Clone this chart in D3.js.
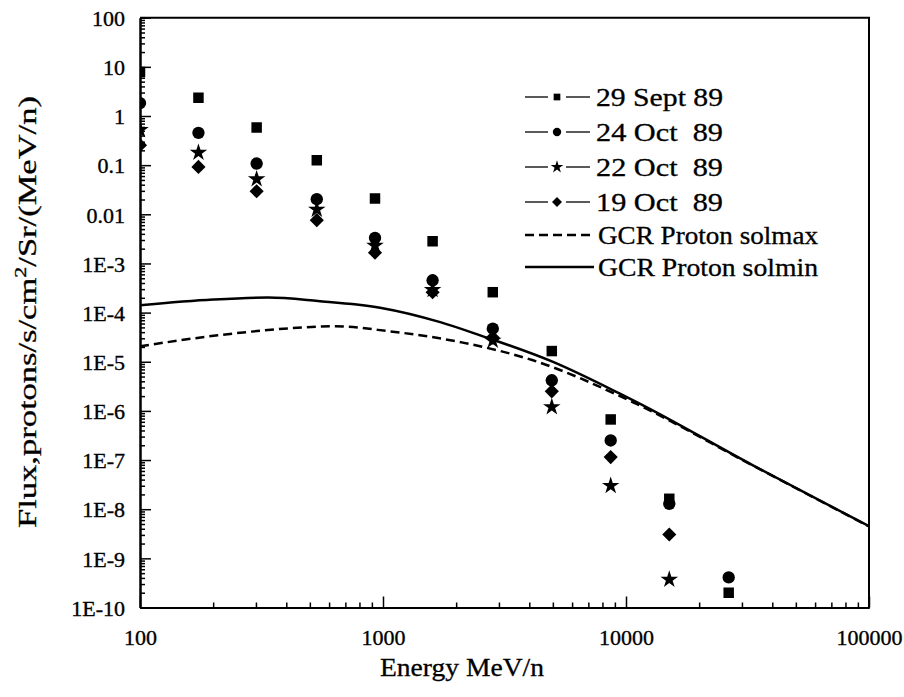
<!DOCTYPE html>
<html>
<head>
<meta charset="utf-8">
<script src="https://cdn.jsdelivr.net/npm/d3@7"></script>
<style>
  body { margin: 0; background: #fff; }
</style>
</head>
<body>
<div id="chart"></div>
<script>
// energies (MeV/n) of the measured points
const energies = [100, 174, 302, 534, 927, 1600, 2830, 4950, 8650, 15070, 26460];

// event spectra, flux per energy (null = no point)
const sept29 = [7.9, 2.35, 0.586, 0.126, 0.021, 2.83e-3, 2.6e-4, 1.65e-5, 6.7e-7, 1.63e-8, 2.0e-10];
const oct24 = [1.83, 0.455, 0.108, 0.0203, 3.3e-3, 4.55e-4, 4.7e-5, 4.2e-6, 2.5e-7, 1.29e-8, 4.1e-10];
const oct22 = [0.52, 0.18, 0.052, 0.0125, 2.3e-3, 2.9e-4, 2.7e-5, 1.2e-6, 3.0e-8, 3.7e-10, null];
const oct19 = [0.255, 0.092, 0.0295, 0.0076, 1.66e-3, 2.6e-4, 3.1e-5, 2.5e-6, 1.15e-7, 3.05e-9, null];

// GCR proton spectra
const solminE = [100, 200, 336, 540, 972, 1720, 2510, 5010, 9440, 11070, 33300, 100000];
const solminF = [1.41e-4, 1.84e-4, 2.02e-4, 1.72e-4, 1.26e-4, 6.4e-5, 3.45e-5, 9.9e-6, 2.24e-6, 1.51e-6, 7.8e-8, 4.5e-9];
const solmaxE = [100, 209, 463, 635, 1050, 2130, 4140, 10690, 33300, 100000];
const solmaxF = [2.06e-5, 3.45e-5, 4.96e-5, 5.26e-5, 4.2e-5, 2.45e-5, 1.07e-5, 1.5e-6, 7.7e-8, 4.45e-9];

// tick values and labels
const xTicks = [100, 1000, 10000, 100000];
const xTickLabels = ["100", "1000", "10000", "100000"];
const yTicks = [1e2, 1e1, 1, 1e-1, 1e-2, 1e-3, 1e-4, 1e-5, 1e-6, 1e-7, 1e-8, 1e-9, 1e-10];
const yTickLabels = ["100", "10", "1", "0.1", "0.01", "1E-3", "1E-4", "1E-5", "1E-6", "1E-7", "1E-8", "1E-9", "1E-10"];

const [W, H] = [904, 697];
const plot = { left: 140, right: 869, top: 17.7, bottom: 607.5 };
const serif = "Liberation Serif";

const svg = d3.select("#chart").append("svg")
  .attr("width", W).attr("height", H)
  .attr("font-family", serif);

const x = d3.scaleLog().domain([100, 100000]).range([plot.left, plot.right]);
const y = d3.scaleLog().domain([1e-10, 100]).range([plot.bottom, plot.top]);

svg.append("clipPath").attr("id", "clip")
  .append("rect")
  .attr("x", plot.left).attr("y", plot.top)
  .attr("width", plot.right - plot.left).attr("height", plot.bottom - plot.top);

// minor tick values (2..9 in each decade)
const minor = (lo, hi) => {
  const out = [];
  for (let e = lo; e < hi; e++) for (let k = 2; k <= 9; k++) out.push(k * Math.pow(10, e));
  return out;
};

// x axis: major and minor ticks pointing inward
const xMajor = d3.axisBottom(x).tickValues(xTicks).tickSizeInner(-11).tickSizeOuter(0)
  .tickFormat((d, i) => xTickLabels[i]).tickPadding(22);
const xMinor = d3.axisBottom(x).tickValues(minor(2, 5)).tickSizeInner(-5).tickSizeOuter(0).tickFormat("");
svg.append("g").attr("transform", `translate(0,${plot.bottom})`).call(xMinor);
svg.append("g").attr("class", "xaxis").attr("transform", `translate(0,${plot.bottom})`).call(xMajor);

// y axis
const yMajor = d3.axisLeft(y).tickValues(yTicks).tickSizeInner(-11).tickSizeOuter(0)
  .tickFormat((d, i) => yTickLabels[i]).tickPadding(15);
const yMinor = d3.axisLeft(y).tickValues(minor(-10, 2)).tickSizeInner(-5).tickSizeOuter(0).tickFormat("");
svg.append("g").attr("transform", `translate(${plot.left},0)`).call(yMinor);
svg.append("g").attr("class", "yaxis").attr("transform", `translate(${plot.left},0)`).call(yMajor);

svg.selectAll(".domain").attr("stroke", "#000").attr("stroke-width", 2);
svg.selectAll(".tick line").attr("stroke", "#000").attr("stroke-width", 1.5);
svg.selectAll(".tick text").attr("font-family", serif).attr("fill", "#000")
  .attr("stroke", "#000").attr("stroke-width", 0.35);
svg.selectAll(".xaxis .tick text").attr("font-size", 22);
svg.selectAll(".yaxis .tick text").attr("font-size", 22).attr("dy", "0.35em");

// top and right frame
svg.append("path")
  .attr("d", `M${plot.left},${plot.top}H${plot.right}V${plot.bottom}`)
  .attr("fill", "none").attr("stroke", "#000").attr("stroke-width", 2);

// GCR curves
const line = d3.line().x((d) => x(d[0])).y((d) => y(d[1])).curve(d3.curveMonotoneX);
const g = svg.append("g").attr("clip-path", "url(#clip)");
g.append("path")
  .attr("d", line(solmaxE.map((e, i) => [e, solmaxF[i]])))
  .attr("fill", "none").attr("stroke", "#000").attr("stroke-width", 2.5)
  .attr("stroke-dasharray", "9,5");
g.append("path")
  .attr("d", line(solminE.map((e, i) => [e, solminF[i]])))
  .attr("fill", "none").attr("stroke", "#000").attr("stroke-width", 2.5);

// markers
const series = [
  { label: "29 Sept 89", values: sept29, symbol: d3.symbolSquare, size: 110, rot: 0, lsize: 45 },
  { label: "24 Oct  89", values: oct24, symbol: d3.symbolCircle, size: 120, rot: 0, lsize: 55 },
  { label: "22 Oct  89", values: oct22, symbol: d3.symbolStar, size: 95, rot: 0, lsize: 50 },
  { label: "19 Oct  89", values: oct19, symbol: d3.symbolSquare, size: 100, rot: 45, lsize: 50 },
];

series.forEach((s) => {
  const pts = energies.map((e, i) => [e, s.values[i]]).filter((d) => d[1] != null);
  g.selectAll(null)
    .data(pts)
    .enter()
    .append("path")
    .attr("d", d3.symbol(s.symbol, s.size))
    .attr("transform", (d) => `translate(${x(d[0])},${y(d[1])}) rotate(${s.rot})`)
    .attr("fill", "#000");
});

// legend
const legend = svg.append("g").attr("id", "legend");
const [lx0, lx1, lm, ltx, ly0, ldy] = [525, 590, 557, 596, 97, 35];
series.forEach((s, i) => {
  const ly = ly0 + i * ldy;
  legend.append("line").attr("x1", lx0).attr("x2", lm - 9).attr("y1", ly).attr("y2", ly)
    .attr("stroke", "#000").attr("stroke-width", 1.3);
  legend.append("line").attr("x1", lm + 9).attr("x2", lx1).attr("y1", ly).attr("y2", ly)
    .attr("stroke", "#000").attr("stroke-width", 1.3);
  legend.append("path").attr("d", d3.symbol(s.symbol, s.lsize))
    .attr("transform", `translate(${lm},${ly}) rotate(${s.rot})`).attr("fill", "#000");
  legend.append("text").attr("x", ltx).attr("y", ly).attr("dy", "0.35em")
    .attr("font-size", 25).attr("textLength", 127).attr("lengthAdjust", "spacingAndGlyphs")
    .attr("stroke", "#000").attr("stroke-width", 0.3)
    .style("white-space", "pre").text(s.label);
});
const curves = [
  { label: "GCR Proton solmax", dash: "9,5" },
  { label: "GCR Proton solmin", dash: null },
];
curves.forEach((c, i) => {
  const ly = ly0 + (4 + i) * ldy - (i === 0 ? 2 : 5);
  legend.append("line").attr("x1", lx0).attr("x2", lx1 + 4).attr("y1", ly).attr("y2", ly)
    .attr("stroke", "#000").attr("stroke-width", 2.5)
    .attr("stroke-dasharray", c.dash);
  legend.append("text").attr("x", ltx + 2).attr("y", ly).attr("dy", "0.35em")
    .attr("font-size", 25).attr("textLength", 220).attr("lengthAdjust", "spacingAndGlyphs")
    .attr("stroke", "#000").attr("stroke-width", 0.3)
    .text(c.label);
});

// axis titles
svg.append("text").attr("x", 462).attr("y", 676).attr("text-anchor", "middle")
  .attr("font-size", 26).attr("textLength", 164).attr("lengthAdjust", "spacingAndGlyphs")
  .attr("stroke", "#000").attr("stroke-width", 0.3)
  .text("Energy MeV/n");
const yt = svg.append("text").attr("transform", "translate(36,312) rotate(-90)")
  .attr("text-anchor", "middle").attr("font-size", 25)
  .attr("textLength", 432).attr("lengthAdjust", "spacingAndGlyphs")
  .attr("stroke", "#000").attr("stroke-width", 0.3);
yt.append("tspan").text("Flux,protons/s/cm");
yt.append("tspan").attr("dy", -10).attr("font-size", 16).text("2");
yt.append("tspan").attr("dy", 10).text("/Sr/(MeV/n)");
</script>
</body>
</html>
